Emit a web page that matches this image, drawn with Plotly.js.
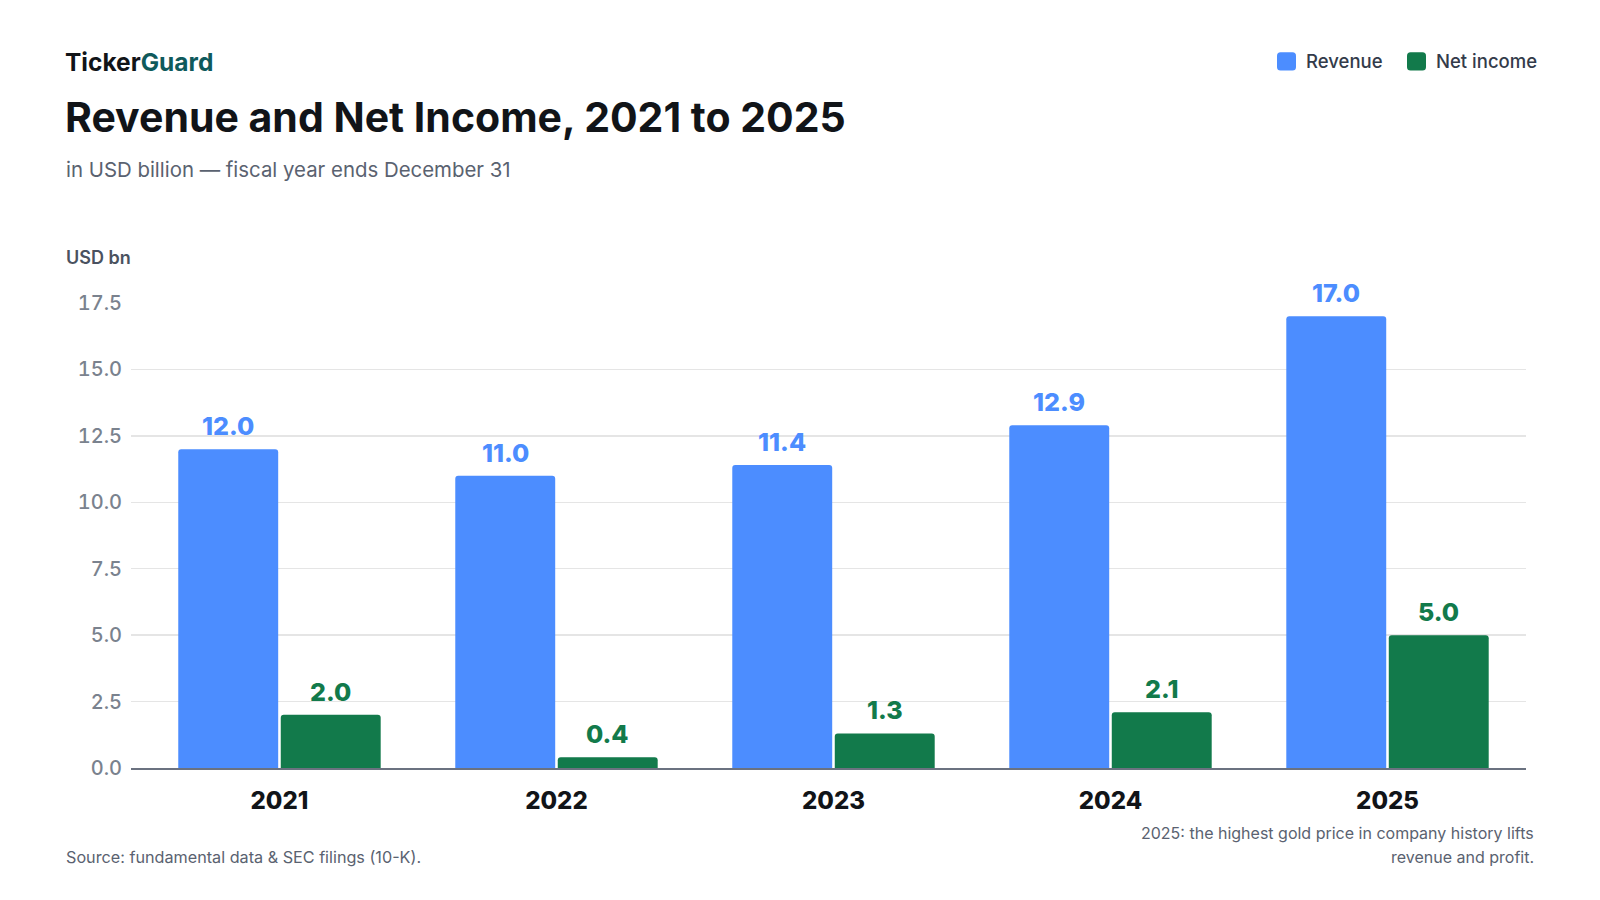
<!DOCTYPE html>
<html>
<head>
<meta charset="utf-8">
<script src="https://cdn.plot.ly/plotly-3.0.1.min.js"></script>
<style>
html,body{margin:0;padding:0;background:#fff;}
#chart{width:1600px;height:900px;}
.ytick text{font-variant-numeric:tabular-nums !important;font-feature-settings:"tnum" 1 !important;}
</style>
</head>
<body>
<div id="chart"></div>
<script>
const years = ['2021', '2022', '2023', '2024', '2025'];
const revenue = [12.0, 11.0, 11.4, 12.9, 17.0];
const netIncome = [2.0, 0.4, 1.3, 2.1, 5.0];
const seriesNames = ['Revenue', 'Net income'];
const yTicks = [0, 2.5, 5, 7.5, 10, 12.5, 15, 17.5];
const noteLines = ['2025: the highest gold price in company history lifts', 'revenue and profit.'];

const BLUE = '#4C8DFF', GREEN = '#127A4B';
const FONT = 'Inter, "Noto Sans", sans-serif';
const W = 1600, H = 900;
const L = 131, R = 74, T = 303, B = 132.3;
const PW = W - L - R, PH = H - T - B;
const X = px => (px - L) / PW;
const Y = py => (H - B - py) / PH;
const BARGAP = 0.26;
const off = (1 - BARGAP) / 4;

const traces = [
  {type: 'bar', name: seriesNames[0], x: years, y: revenue, marker: {color: BLUE}, hoverinfo: 'none'},
  {type: 'bar', name: seriesNames[1], x: years, y: netIncome, marker: {color: GREEN}, hoverinfo: 'none'}
];

const annotations = [];
function txt(text, px, py, size, color, weight, xanchor, extra) {
  annotations.push(Object.assign({
    text: text, xref: 'paper', yref: 'paper', x: X(px), y: Y(py),
    xanchor: xanchor || 'left', yanchor: 'middle', showarrow: false,
    font: {family: FONT, size: size, color: color, weight: weight || 400}
  }, extra || {}));
}
txt('Ticker<span style="color:#0F5A5C">Guard</span>', 62.5, 62.3, 24.5, '#111418', 700);
txt('Revenue and Net Income, 2021 to 2025', 62.5, 117.3, 41, '#111418', 700);
txt('in USD billion \u2014 fiscal year ends December 31', 63.5, 169.5, 20.4, '#5A6270', 400);
txt('USD bn', 63.5, 258, 18, '#4A5260', 600);
txt('Source: fundamental data &amp; SEC filings (10-K).', 63.5, 856.5, 16.2, '#5A6270', 400);
txt(noteLines[0], 1536, 832.5, 16, '#5A6270', 400, 'right');
txt(noteLines[1], 1536, 857, 16, '#5A6270', 400, 'right');
// legend
txt(seriesNames[0], 1304, 61.5, 18.5, '#333B4A', 500);
txt(seriesNames[1], 1434, 61.5, 18.5, '#333B4A', 500);

function roundRect(x0, y0, x1, y1, r) {
  const rx = r / PW, ry = r / PH;
  const a = X(x0), b = X(x1), top = Y(y0), bot = Y(y1);
  return `M${a + rx},${bot} L${b - rx},${bot} Q${b},${bot} ${b},${bot + ry} L${b},${top - ry} Q${b},${top} ${b - rx},${top} ` +
         `L${a + rx},${top} Q${a},${top} ${a},${top - ry} L${a},${bot + ry} Q${a},${bot} ${a + rx},${bot} Z`;
}
const shapes = [
  {type: 'path', xref: 'paper', yref: 'paper', path: roundRect(1277, 52.3, 1296, 70.7, 3.5), fillcolor: BLUE, line: {width: 0}, layer: 'above'},
  {type: 'path', xref: 'paper', yref: 'paper', path: roundRect(1407, 52.3, 1426, 70.7, 3.5), fillcolor: GREEN, line: {width: 0}, layer: 'above'}
];

// value labels
years.forEach((yr, i) => {
  annotations.push({x: i - off, y: revenue[i], xref: 'x', yref: 'y', text: revenue[i].toFixed(1),
    showarrow: false, yanchor: 'bottom', yshift: 6, font: {family: FONT, size: 25, color: BLUE, weight: 800}});
  annotations.push({x: i + off, y: netIncome[i], xref: 'x', yref: 'y', text: netIncome[i].toFixed(1),
    showarrow: false, yanchor: 'bottom', yshift: 6, font: {family: FONT, size: 25, color: GREEN, weight: 800}});
});

const layout = {
  width: W, height: H,
  margin: {l: L, r: R, t: T, b: B, pad: 0},
  paper_bgcolor: '#fff', plot_bgcolor: '#fff',
  barmode: 'group', bargap: BARGAP, bargroupgap: 0.025, barcornerradius: 3,
  showlegend: false,
  font: {family: FONT},
  xaxis: {
    type: 'category', range: [-0.536, 4.5], showgrid: false, zeroline: false,
    showline: true, linecolor: '#6B7280', linewidth: 2,
    ticks: '', ticklabelstandoff: 10,
    tickfont: {family: FONT, size: 24, color: '#111418', weight: 800},
    fixedrange: true
  },
  yaxis: {
    range: [0, 17.5], tickvals: yTicks, ticktext: yTicks.map(v => v.toFixed(1)),
    showgrid: true, gridcolor: '#E5E5E5', gridwidth: 1.5, zeroline: false,
    showline: false, ticks: '', ticklabelstandoff: 8,
    tickfont: {family: FONT, size: 20, color: '#7A828E', weight: 500},
    fixedrange: true
  },
  annotations: annotations,
  shapes: shapes
};

Plotly.newPlot('chart', traces, layout, {displayModeBar: false, staticPlot: true});
</script>
</body>
</html>
